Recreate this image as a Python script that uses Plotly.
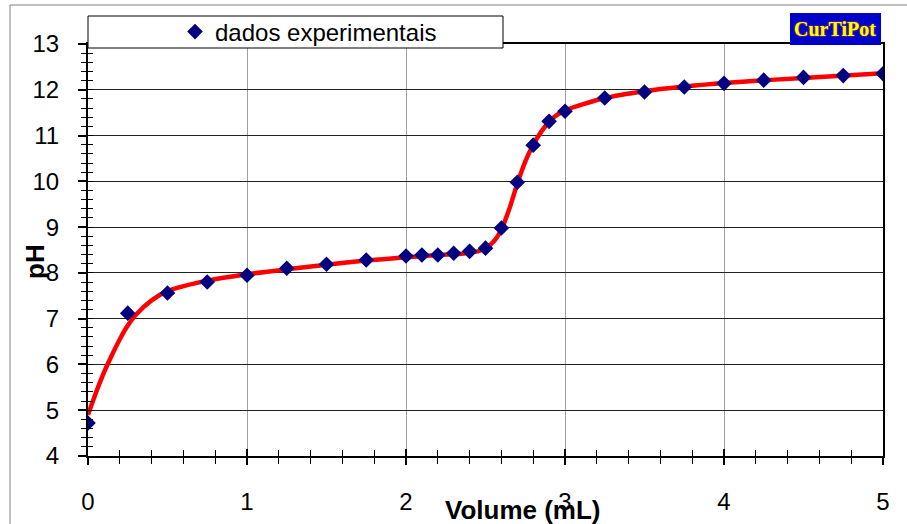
import plotly.graph_objects as go

# experimental data
vol_exp = [0, 0.25, 0.5, 0.75, 1.0, 1.25, 1.5, 1.75, 2.0, 2.1, 2.2, 2.3, 2.4, 2.5,
           2.6, 2.7, 2.8, 2.9, 3.0, 3.25, 3.5, 3.75, 4.0, 4.25, 4.5, 4.75, 5.0]
ph_exp = [4.72, 7.12, 7.56, 7.80, 7.95, 8.10, 8.19, 8.28, 8.37, 8.39, 8.39, 8.43, 8.47, 8.54,
          8.98, 9.98, 10.79, 11.31, 11.53, 11.82, 11.95, 12.06, 12.14, 12.21, 12.27, 12.31, 12.35]

# fitted curve
vol_fit = [0, 0.05, 0.1, 0.15, 0.2, 0.25, 0.3, 0.4, 0.5, 0.75, 1.0, 1.25, 1.5, 1.75, 2.0,
           2.2, 2.35, 2.45, 2.5, 2.55, 2.6, 2.65, 2.7, 2.75, 2.8, 2.85, 2.9, 2.95, 3.0,
           3.25, 3.5, 3.75, 4.0, 4.5, 5.0]
ph_fit = [4.9, 5.38, 5.82, 6.2, 6.55, 6.85, 7.08, 7.4, 7.6, 7.83, 7.97, 8.08, 8.18, 8.27, 8.34,
          8.39, 8.42, 8.47, 8.54, 8.68, 8.95, 9.4, 9.95, 10.43, 10.8, 11.08, 11.3, 11.45, 11.55,
          11.82, 11.97, 12.07, 12.15, 12.26, 12.36]

x_ticks = [0, 1, 2, 3, 4, 5]
y_ticks = [4, 5, 6, 7, 8, 9, 10, 11, 12, 13]

FONT = "Liberation Sans, Arial, sans-serif"

fig = go.Figure()
fig.add_trace(go.Scatter(x=vol_fit, y=ph_fit, mode="lines",
                         line=dict(color="#FF0000", width=4.5, shape="spline", smoothing=0.8),
                         showlegend=False, hoverinfo="skip"))
fig.add_trace(go.Scatter(x=vol_exp, y=ph_exp, mode="markers", name="dados experimentais",
                         marker=dict(symbol="diamond", size=12, color="#000080")))

W, H = 907, 524
L, R, T, B = 88, 24, 44, 68
pw, ph = W - L - R, H - T - B


def px_x(p):
    return (p - L) / pw


def px_y(p):
    return (H - B - p) / ph


fig.update_layout(
    width=W, height=H,
    margin=dict(l=L, r=R, t=T, b=B, autoexpand=False),
    paper_bgcolor="white", plot_bgcolor="white",
    font=dict(family=FONT, color="black"),
    xaxis=dict(range=[0, 5], tickvals=x_ticks, ticks="outside", ticklen=7, tickwidth=1.5,
               tickcolor="black", showline=True, linecolor="black", linewidth=2, mirror=True,
               showgrid=True, gridcolor="#A0A0A0", gridwidth=1, zeroline=False,
               automargin=False,
               tickfont=dict(size=24), ticklabelstandoff=16,
               minor=dict(dtick=0.2, ticks="outside", ticklen=6, tickcolor="black",
                          tickwidth=1.2, showgrid=False)),
    yaxis=dict(range=[4, 13], tickvals=y_ticks, ticks="outside", ticklen=8, tickwidth=1.5,
               tickcolor="black", showline=True, linecolor="black", linewidth=2, mirror=True,
               showgrid=True, gridcolor="#222222", gridwidth=1, zeroline=False,
               automargin=False,
               tickfont=dict(size=24), ticklabelstandoff=14,
               minor=dict(dtick=0.2, ticks="outside", ticklen=5, tickcolor="black",
                          tickwidth=1.2, showgrid=False)),
    xaxis2=dict(range=[0, 5], overlaying="x", anchor="y", side="bottom", tickvals=x_ticks,
                ticks="inside", ticklen=7, tickwidth=1.5, tickcolor="black", automargin=False,
                showticklabels=False, showgrid=False, zeroline=False, showline=False,
                minor=dict(dtick=0.2, ticks="inside", ticklen=6, tickcolor="black",
                           tickwidth=1.2, showgrid=False)),
    yaxis2=dict(range=[4, 13], overlaying="y", anchor="x", side="left", tickvals=y_ticks,
                ticks="", showticklabels=False, showgrid=False, zeroline=False, showline=False,
                automargin=False,
                minor=dict(dtick=0.2, ticks="inside", ticklen=5, tickcolor="black",
                           tickwidth=1.2, showgrid=False)),
    legend=dict(x=px_x(175), y=px_y(32), xanchor="left", yanchor="middle",
                bgcolor="rgba(0,0,0,0)", borderwidth=0, font=dict(size=24, family=FONT)),
    shapes=[
        dict(type="rect", xref="paper", yref="paper", x0=px_x(10), x1=px_x(930),
             y0=px_y(560), y1=px_y(5), line=dict(color="#808080", width=1), layer="below"),
        dict(type="rect", xref="paper", yref="paper", x0=px_x(88), x1=px_x(503),
             y0=px_y(48), y1=px_y(16), line=dict(color="black", width=1),
             fillcolor="white", layer="above"),
        dict(type="rect", xref="paper", yref="paper", x0=px_x(790), x1=px_x(881),
             y0=px_y(45), y1=px_y(13), line=dict(width=0), fillcolor="#0000C8", layer="above"),
    ],
    annotations=[
        dict(text="<b>Volume (mL)</b>", xref="paper", yref="paper", x=px_x(523), y=px_y(510),
             xanchor="center", yanchor="middle", showarrow=False,
             font=dict(size=26, family=FONT, color="black")),
        dict(text="<b>pH</b>", xref="paper", yref="paper", x=px_x(35), y=px_y(262),
             xanchor="center", yanchor="middle", showarrow=False, textangle=-90,
             font=dict(size=26, family=FONT, color="black")),
        dict(text="<b>CurTiPot</b>", xref="paper", yref="paper", x=px_x(835), y=px_y(29),
             xanchor="center", yanchor="middle", showarrow=False,
             font=dict(size=20, family="Liberation Serif, Times New Roman, serif",
                       color="#FFFF00", shadow="0px 0px 2px #FF6600")),
    ],
)

fig.add_trace(go.Scatter(x=[], y=[], xaxis="x2", yaxis="y2", showlegend=False,
                         hoverinfo="skip"))

fig.write_html("out.html")
